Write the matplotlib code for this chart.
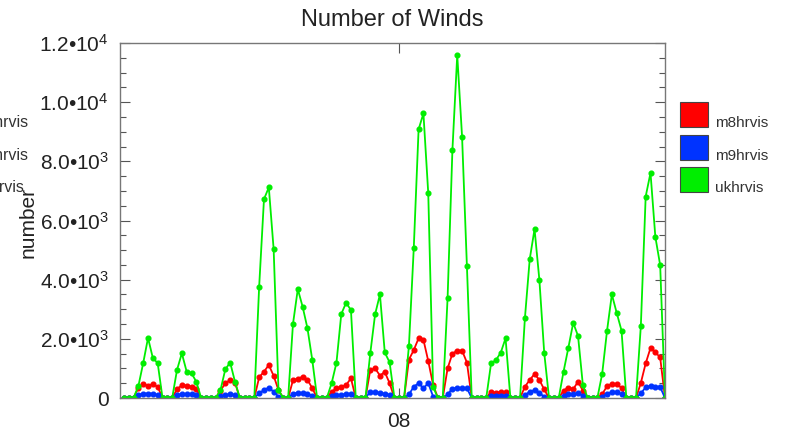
import numpy as np
import matplotlib
matplotlib.use("Agg")
import matplotlib.pyplot as plt
from matplotlib.patches import Rectangle
from matplotlib.ticker import FixedLocator, MultipleLocator

plt.rcParams['font.family'] = ['Liberation Sans', 'DejaVu Sans']
plt.rcParams['mathtext.fontset'] = 'custom'
plt.rcParams['mathtext.rm'] = 'Liberation Sans'
plt.rcParams['mathtext.it'] = 'Liberation Sans:italic'

# 3-hourly counts, index 0..112
series_names = ['m8hrvis', 'm9hrvis', 'ukhrvis']
series_colors = ['#ff0000', '#0033ff', '#00ee00']

m8hrvis = [
    0, 0, 0, 350, 470, 420, 470, 380, 0, 0,
    0, 300, 430, 420, 380, 300, 0, 0, 0, 0,
    250, 500, 610, 520, 0, 0, 0, 0, 700, 890,
    1115, 750, 270, 0, 0, 600, 650, 720, 620, 330,
    0, 0, 0, 210, 330, 380, 440, 665, 0, 0,
    0, 945, 1000, 760, 880, 500, 0, 0, 0, 1300,
    1620, 2020, 1970, 1250, 450, 0, 0, 1000, 1500, 1600,
    1600, 1200, 0, 0, 0, 0, 210, 170, 210, 200,
    0, 0, 0, 380, 610, 810, 610, 290, 0, 0,
    0, 250, 350, 300, 550, 250, 0, 0, 0, 130,
    400, 480, 470, 340, 0, 0, 0, 510, 1170, 1690,
    1550, 1370, 0]

m9hrvis = [
    0, 0, 0, 100, 150, 150, 150, 100, 0, 0,
    0, 100, 130, 130, 120, 100, 0, 0, 0, 0,
    60, 100, 120, 100, 0, 0, 0, 0, 160, 270,
    350, 210, 50, 0, 0, 150, 170, 160, 140, 80,
    0, 0, 0, 60, 100, 110, 130, 150, 0, 0,
    0, 210, 200, 170, 140, 100, 0, 0, 0, 120,
    380, 500, 330, 500, 50, 0, 0, 120, 320, 330,
    330, 330, 0, 0, 0, 0, 80, 80, 80, 80,
    0, 0, 0, 100, 210, 270, 160, 50, 0, 0,
    0, 80, 130, 130, 160, 80, 0, 0, 0, 50,
    150, 200, 190, 130, 0, 0, 0, 160, 360, 400,
    380, 370, 0]

ukhrvis = [
    0, 0, 0, 400, 1180, 2030, 1350, 1180, 0, 0,
    0, 950, 1510, 890, 835, 550, 0, 0, 0, 0,
    270, 970, 1200, 550, 0, 0, 0, 0, 3760, 6720,
    7120, 5030, 270, 0, 0, 2500, 3680, 3085, 2355, 1280,
    0, 0, 0, 500, 1190, 2840, 3220, 2970, 0, 0,
    0, 1510, 2830, 3500, 1540, 1205, 0, 0, 0, 1760,
    5060, 9080, 9620, 6920, 380, 0, 0, 3370, 8380, 11590,
    8830, 4460, 0, 0, 0, 0, 1170, 1280, 1530, 2020,
    0, 0, 0, 2690, 4690, 5710, 3990, 1530, 0, 0,
    0, 890, 1700, 2540, 2100, 440, 0, 0, 0, 820,
    2270, 3500, 2880, 2280, 0, 0, 0, 2440, 6810, 7610,
    5450, 4490, 0]

x_ticks = [57]
x_ticklabels = ['08']
y_ticks = [0, 2000, 4000, 6000, 8000, 10000, 12000]
y_ticklabels = ['0', r'2.0•10$^{3}$', r'4.0•10$^{3}$', r'6.0•10$^{3}$',
                r'8.0•10$^{3}$', r'1.0•10$^{4}$', r'1.2•10$^{4}$']

W, H = 792, 433
fig = plt.figure(figsize=(W / 100, H / 100), dpi=100)
ax = fig.add_axes([120 / W, 1 - 398 / H, 545 / W, 355 / H])

x = np.arange(len(ukhrvis))
for vals, c in zip([m8hrvis, m9hrvis, ukhrvis], series_colors):
    ax.plot(x, vals, color=c, lw=1.3, marker='o', ms=3.4, mec=c, clip_on=True)

ax.set_xlim(-0.8, 112)
ax.set_ylim(0, 12000)
ax.xaxis.set_major_locator(FixedLocator(x_ticks))
ax.set_xticklabels(x_ticklabels)
ax.yaxis.set_major_locator(FixedLocator(y_ticks))
ax.set_yticklabels(y_ticklabels)
ax.yaxis.set_minor_locator(MultipleLocator(500))

ax.tick_params(which='both', direction='in', top=True, right=True,
               color='#555555', labelsize=15, labelcolor='#222222')
ax.tick_params(which='major', length=7, width=0.8)
ax.tick_params(which='minor', length=4, width=0.8)
ax.tick_params(axis='x', pad=10)
ax.tick_params(axis='y', pad=8)
for s in ax.spines.values():
    s.set_color('#777777')
    s.set_linewidth(1.0)

ax.set_title('Number of Winds', fontsize=17, color='#222222', pad=12)
fig.text(28 / W, 1 - 222 / H, 'number', rotation=90, ha='center', va='center',
         fontsize=15, color='#222222')

# legend on the right
box_tops = [102, 135, 167]
for top, c, name in zip(box_tops, series_colors, series_names):
    fig.patches.append(Rectangle((680 / W, 1 - (top + 25) / H), 28 / W, 25 / H,
                                 transform=fig.transFigure, facecolor=c,
                                 edgecolor='#444444', lw=0.8))
    fig.text(715 / W, 1 - (top + 25) / H, name, ha='left', va='baseline',
             fontsize=11, color='#333333')
    # copy of the legend cut off at the left edge, as in the reference
    fig.text(-27 / W, 1 - (top + 25) / H, name, ha='left', va='baseline',
             fontsize=11.5, color='#333333')

fig.savefig('out.png', dpi=100)
